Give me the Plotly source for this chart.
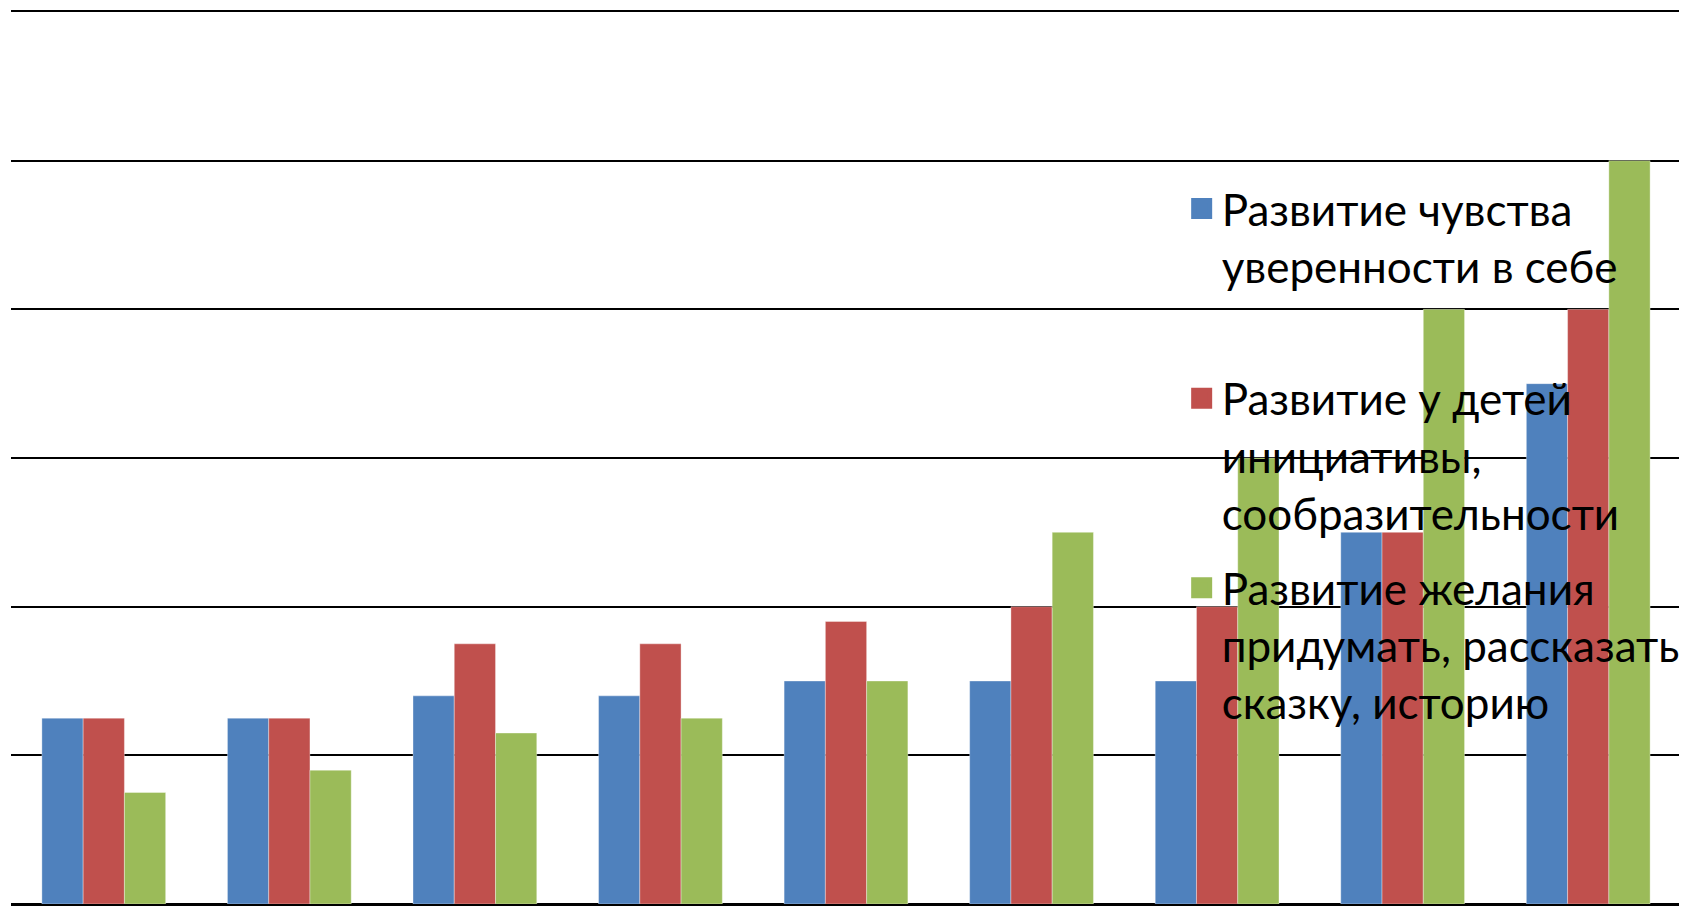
import plotly.graph_objects as go

categories = ["1", "2", "3", "4", "5", "6", "7", "8", "9"]
series_names = [
    "Развитие чувства<br>уверенности в себе<br> ",
    "Развитие у детей<br>инициативы,<br>сообразительности",
    "Развитие желания<br>придумать, рассказать<br>сказку, историю",
]
blue_values = [1.25, 1.25, 1.4, 1.4, 1.5, 1.5, 1.5, 2.5, 3.5]
red_values = [1.25, 1.25, 1.75, 1.75, 1.9, 2.0, 2.0, 2.5, 4.0]
green_values = [0.75, 0.9, 1.15, 1.25, 1.5, 2.5, 3.0, 4.0, 5.0]
colors = ["#4F81BD", "#C0504D", "#9BBB59"]

fig = go.Figure()
for name, vals, col in zip(series_names, [blue_values, red_values, green_values], colors):
    fig.add_trace(go.Bar(
        x=categories, y=vals, name=name, legendgroup=name, showlegend=False,
        marker=dict(color=col, line=dict(color="rgba(255,255,255,0.35)", width=1)),
    ))
# legend keys (larger square swatches, as in the original)
for name, col in zip(series_names, colors):
    fig.add_trace(go.Scatter(
        x=[None], y=[None], mode="markers", name=name, legendgroup=name,
        marker=dict(symbol="square", size=16, color=col, line=dict(color=col, width=5)),
    ))

fig.update_layout(
    width=1687, height=907,
    margin=dict(l=3, r=14, t=4, b=11),
    paper_bgcolor="white", plot_bgcolor="white",
    barmode="group", bargap=0.333, bargroupgap=0,
    showlegend=True,
    legend=dict(
        x=0.701, y=0.819, xanchor="left", yanchor="top",
        font=dict(family="Lato", size=44, color="black"),
        bgcolor="rgba(0,0,0,0)", valign="top", tracegroupgap=15,
        itemsizing="trace",
    ),
    font=dict(family="Lato", color="black"),
)
fig.update_xaxes(showticklabels=False, showgrid=False, zeroline=False,
                 showline=True, mirror=True, linecolor="black", linewidth=2)
fig.update_yaxes(range=[0, 6], dtick=1, showticklabels=False, showgrid=True,
                 gridcolor="black", gridwidth=2, zeroline=True, zerolinecolor="black",
                 zerolinewidth=2, showline=False)

fig.write_html("out.html")
